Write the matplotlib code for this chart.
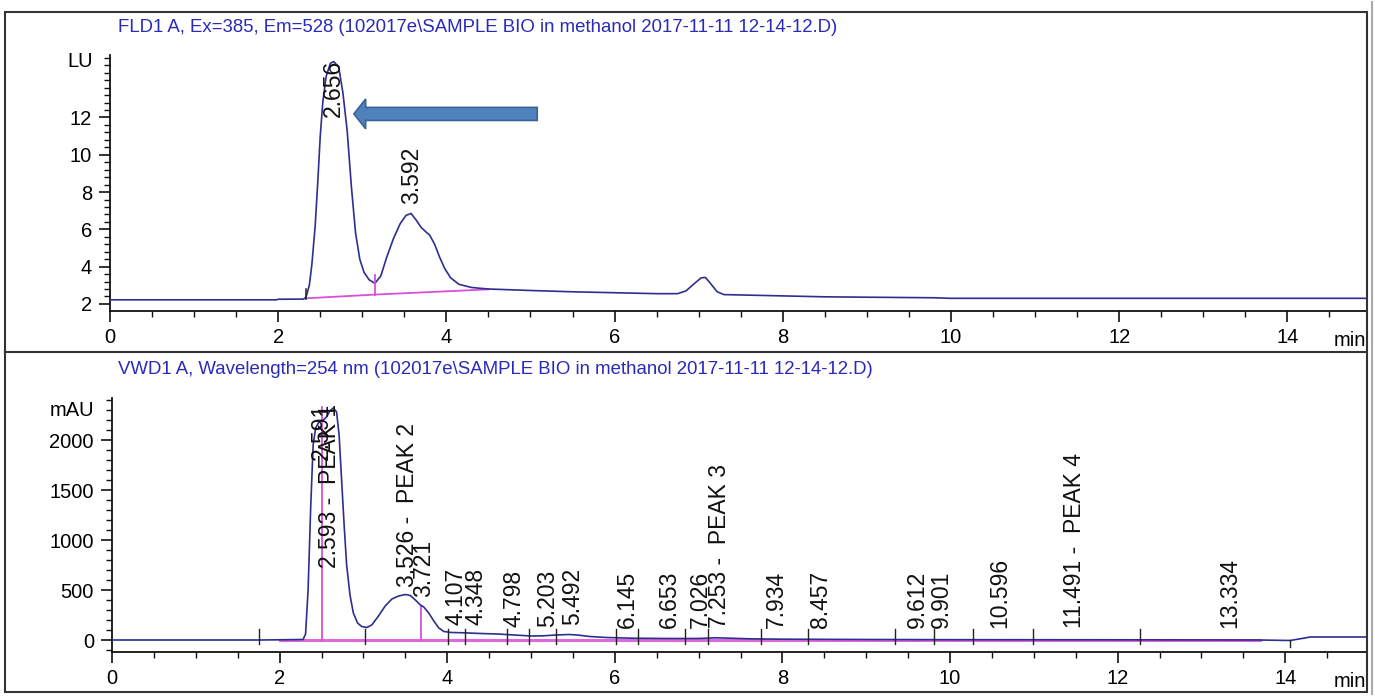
import matplotlib
matplotlib.use('Agg')
import matplotlib.pyplot as plt
from matplotlib.ticker import MultipleLocator, FixedLocator
from matplotlib.patches import FancyArrow, Rectangle
from matplotlib.lines import Line2D
from matplotlib import font_manager

_names = {f.name for f in font_manager.fontManager.ttflist}
NARROW = 'Liberation Sans Narrow' if 'Liberation Sans Narrow' in _names else 'Liberation Sans'
REG = 'Liberation Sans'

# ---------------- data ----------------
fld_title = "FLD1 A, Ex=385, Em=528 (102017e\\SAMPLE BIO in methanol 2017-11-11 12-14-12.D)"
vwd_title = "VWD1 A, Wavelength=254 nm (102017e\\SAMPLE BIO in methanol 2017-11-11 12-14-12.D)"

fld_time = [0.0, 1.98, 2.0, 2.30, 2.33, 2.37, 2.40, 2.44, 2.47, 2.50, 2.53, 2.57, 2.62, 2.66,
            2.72, 2.77, 2.82, 2.87, 2.92, 2.97, 3.02, 3.08, 3.15, 3.22, 3.29, 3.37, 3.45,
            3.52, 3.58, 3.64, 3.70, 3.76, 3.80, 3.86, 3.92, 3.98, 4.05, 4.15, 4.30, 4.5,
            5.0, 5.5, 6.0, 6.5, 6.75, 6.85, 6.95, 7.03, 7.08, 7.14, 7.22, 7.30, 7.6, 8.0,
            8.5, 9.0, 9.8, 10.0, 12.0, 14.95]
fld_signal = [2.22, 2.22, 2.25, 2.26, 2.35, 3.0, 4.1, 6.2, 8.5, 11.0, 12.8, 14.2, 14.9, 15.0,
              14.7, 13.3, 11.3, 8.3, 5.8, 4.4, 3.7, 3.3, 3.1, 3.5, 4.5, 5.5, 6.3,
              6.75, 6.85, 6.5, 6.1, 5.85, 5.7, 5.2, 4.5, 3.9, 3.4, 3.05, 2.88, 2.8,
              2.72, 2.65, 2.6, 2.55, 2.55, 2.7, 3.1, 3.4, 3.42, 3.1, 2.65, 2.5, 2.47, 2.43,
              2.38, 2.36, 2.33, 2.3, 2.3, 2.3]
fld_base_time = [2.33, 3.15, 4.5]
fld_base_signal = [2.3, 2.5, 2.78]
fld_labels = ["2.656", "3.592"]
fld_label_x = [2.656, 3.592]
fld_label_y = [12.05, 7.35]

vwd_time = [0.0, 1.75, 2.0, 2.28, 2.31, 2.34, 2.37, 2.40, 2.43, 2.47, 2.52, 2.56, 2.60, 2.64,
            2.68, 2.71, 2.74, 2.77, 2.80, 2.84, 2.88, 2.93, 2.98, 3.04, 3.10, 3.18, 3.26,
            3.34, 3.42, 3.50, 3.56, 3.62, 3.68, 3.72, 3.78, 3.84, 3.90, 3.96, 4.05, 4.2,
            4.4, 4.6, 4.8, 5.0, 5.15, 5.3, 5.45, 5.55, 5.7, 5.9, 6.2, 6.6, 7.0, 7.2, 7.3,
            7.6, 8.0, 9.0, 10.0, 12.0, 13.7, 14.06, 14.3, 14.96]
vwd_signal = [0, 0, 2, 5, 60, 500, 1300, 1950, 2120, 2180, 2200, 2230, 2290, 2320,
              2280, 2050, 1600, 1150, 750, 450, 270, 170, 135, 125, 150, 240, 340,
              410, 440, 455, 445, 400, 350, 330, 270, 190, 120, 85, 75, 72,
              65, 60, 50, 40, 42, 50, 55, 50, 35, 25, 18, 15, 15, 22, 20,
              12, 8, 5, 3, 2, 0, -5, 30, 30]
vwd_base_time = [2.0, 13.7]
vwd_base_signal = [0, 0]
vwd_labels = ["2.591", "2.593 -  PEAK 1", "3.526 -  PEAK 2", "3.721", "4.107", "4.348",
              "4.798", "5.203", "5.492", "6.145", "6.653", "7.026", "7.253 -  PEAK 3",
              "7.934", "8.457", "9.612", "9.901", "10.596", "11.491 -  PEAK 4", "13.334"]
vwd_label_x = [2.50, 2.593, 3.526, 3.721, 4.107, 4.348, 4.798, 5.203, 5.492, 6.145, 6.653,
               7.026, 7.253, 7.934, 8.457, 9.612, 9.901, 10.596, 11.491, 13.334]
vwd_label_y = [1800, 720, 530, 430, 150, 150, 130, 130, 150, 120, 120,
               120, 120, 120, 120, 120, 120, 120, 120, 120]
vwd_event_x = [1.75, 3.02, 4.01, 4.21, 4.71, 4.98, 5.30, 6.02, 6.28, 6.84, 7.11,
               7.74, 8.31, 9.34, 9.81, 10.27, 10.99, 12.27]
vwd_drop_x = [2.51, 3.69]
vwd_drop_top = [2330, 345]

# ---------------- style ----------------
TRACE = '#2e2e90'
BASE = '#d84fd8'
TITLE_C = '#2a2ab8'
W, H = 1375, 696
TICK_FS = 14.5

fig = plt.figure(figsize=(W / 100, H / 100), dpi=100)
fig.patch.set_facecolor('white')


def px_rect(left, right, top, bottom):
    return [left / W, 1 - bottom / H, (right - left) / W, (bottom - top) / H]


ax1 = fig.add_axes(px_rect(110, 1366, 55, 311))
ax2 = fig.add_axes(px_rect(112, 1366, 398, 652))


def style(ax, xmax, ylim, ymaj, ymin_step, unit, unit_y):
    ax.set_xlim(0, xmax)
    ax.set_ylim(*ylim)
    for s in ('top', 'right'):
        ax.spines[s].set_visible(False)
    for s in ('left', 'bottom'):
        ax.spines[s].set_linewidth(1.3)
        ax.spines[s].set_color('#111111')
    ax.xaxis.set_major_locator(MultipleLocator(2))
    ax.xaxis.set_minor_locator(MultipleLocator(0.5))
    ax.yaxis.set_major_locator(FixedLocator(ymaj))
    ax.yaxis.set_minor_locator(MultipleLocator(ymin_step))
    ax.tick_params(axis='both', which='major', direction='out', length=8, width=1.2,
                   labelsize=TICK_FS, color='#111111')
    ax.tick_params(axis='both', which='minor', direction='out', length=4.5, width=1.0,
                   color='#111111')
    ax.tick_params(axis='x', which='major', pad=4)
    ax.tick_params(axis='y', which='major', pad=5)
    for lab in ax.get_xticklabels() + ax.get_yticklabels():
        lab.set_fontfamily(NARROW)
    ax.annotate(unit, xy=(0, unit_y), xycoords=('axes fraction', 'data'),
                xytext=(-12.5, 0), textcoords='offset points', ha='right', va='center',
                fontsize=TICK_FS, family=NARROW)
    ax.annotate('min', xy=(1, 0), xycoords='axes fraction', xytext=(0, -21),
                textcoords='offset points', ha='right', va='center',
                fontsize=TICK_FS, family=NARROW)
    ax.patch.set_alpha(0)


style(ax1, (1366 - 110) / 84.1, (1.62, 15.35), [2, 4, 6, 8, 10, 12], 0.4, 'LU', 15.0)
style(ax2, (1366 - 112) / 83.8, (-120, 2420), [0, 500, 1000, 1500, 2000], 100, 'mAU', 2300)

# ---- top panel ----
ax1.plot(fld_base_time, fld_base_signal, color=BASE, lw=1.3, zorder=2)
ax1.plot(fld_time, fld_signal, color=TRACE, lw=1.2, zorder=3)
ax1.plot([fld_base_time[0]] * 2, [2.27, 2.8], color='#222222', lw=1.1, zorder=3)
ax1.plot([fld_base_time[1]] * 2, [2.5, 3.55], color=BASE, lw=1.3, zorder=3)
for t, x, y in zip(fld_labels, fld_label_x, fld_label_y):
    ax1.text(x, y, t, rotation=90, ha='center', va='bottom', fontsize=16.5,
             family=REG, color='#111111', zorder=4)
ax1.add_patch(FancyArrow(5.08, 12.19, 2.90 - 5.08, 0, width=0.7, head_width=1.6,
                         head_length=0.14, length_includes_head=True,
                         facecolor='#4f81bd', edgecolor='#3a6294', lw=1.2, zorder=5))

# ---- bottom panel ----
ax2.plot(vwd_base_time, vwd_base_signal, color=BASE, lw=2.2, alpha=0.85, zorder=2)
ax2.plot(vwd_time, vwd_signal, color=TRACE, lw=1.2, zorder=3)
for x, top in zip(vwd_drop_x, vwd_drop_top):
    ax2.plot([x, x], [0, top], color=BASE, lw=1.3, zorder=2)
for x in vwd_event_x:
    ax2.plot([x, x], [-40, 110], color='#222222', lw=1.0, zorder=3)
ax2.plot([14.06, 14.06], [-70, 0], color='#222222', lw=1.0, zorder=3)
for t, x, y in zip(vwd_labels, vwd_label_x, vwd_label_y):
    ax2.text(x, y, t, rotation=90, ha='center', va='bottom', fontsize=16.5,
             family=REG, color='#111111', zorder=4)

# ---- titles and frame ----
fig.text(118 / W, 1 - 28 / H, fld_title, ha='left', va='center', fontsize=13.4,
         family=NARROW, color=TITLE_C)
fig.text(118 / W, 1 - 369 / H, vwd_title, ha='left', va='center', fontsize=13.4,
         family=NARROW, color=TITLE_C)
fig.add_artist(Rectangle((5 / W, 1 - 692 / H), (1367 - 5) / W, (692 - 12) / H,
                         transform=fig.transFigure, fill=False, lw=1.5, ec='#333333'))
fig.add_artist(Line2D([5 / W, 1367 / W], [1 - 352 / H] * 2, transform=fig.transFigure,
                      lw=1.5, color='#333333'))
fig.add_artist(Line2D([1372 / W] * 2, [1 - 2 / H, 1 - 694 / H], transform=fig.transFigure,
                      lw=1.5, color='#aaaaaa'))

fig.savefig('out.png', dpi=100)
